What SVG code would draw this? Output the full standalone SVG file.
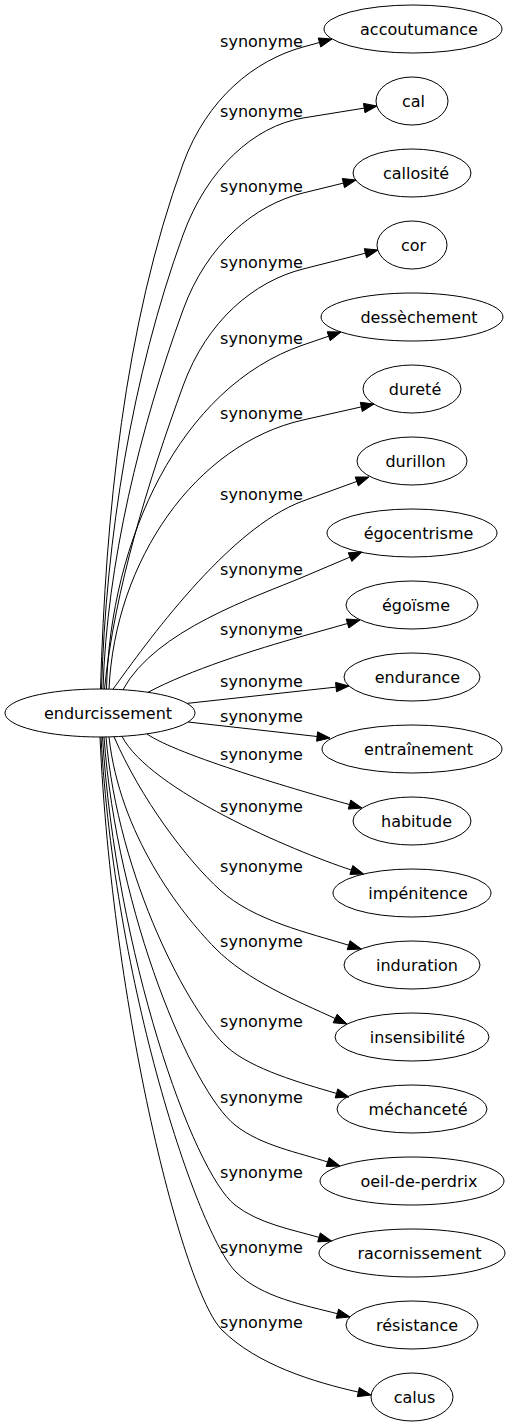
<svg xmlns="http://www.w3.org/2000/svg" width="510" height="1427" viewBox="0 0 510 1427">
<style>
text{font-family:"DejaVu Sans","Liberation Sans",sans-serif;font-size:16px;fill:#000;text-anchor:middle}
.n ellipse{fill:none;stroke:#000;stroke-width:1}
.e path{fill:none;stroke:#000;stroke-width:1}
.e polygon{fill:#000;stroke:#000;stroke-width:1}
</style>
<rect width="510" height="1427" fill="#fff"/>
<g id="edges" class="e">
<g id="e-accoutumance"><path d="M100.5,689 C105.7,516 123.8,326.6 183,164 C206.9,98.2 254.8,60.3 303,47 L319.5,42.5"/><polygon points="332,39 320.75,47.03 318.25,37.97"/><text x="261.5" y="47">synonyme</text></g>
<g id="e-cal"><path d="M101.5,689 C106,539 131.7,376 183,235 C206.9,169.2 253.65,126 303,118 L364.2,108.1"/><polygon points="377,106 364.95,112.7 363.45,103.4"/><text x="261.5" y="117">synonyme</text></g>
<g id="e-callosite"><path d="M103,689 C106.75,564 140.25,427.5 183,310 C206.9,244.2 254.45,204.9 303,193 L343.4,183.1"/><polygon points="356,180 344.5,187.7 342.3,178.5"/><text x="261.5" y="192">synonyme</text></g>
<g id="e-cor"><path d="M104.5,689 C114.5,589.5 148.8,480 183,386 C206.9,320.2 254.55,281.25 303,269 L365.4,253.2"/><polygon points="378,250 366.55,257.75 364.25,248.65"/><text x="261.5" y="268">synonyme</text></g>
<g id="e-dessechement"><path d="M106.5,689 C110,540 180,387.1 303,345 L328.7,336.2"/><polygon points="341,332 330.2,340.65 327.2,331.75"/><text x="261.5" y="344">synonyme</text></g>
<g id="e-durete"><path d="M109,689 C115,560 195.75,444.2 303,420 L361.3,406.9"/><polygon points="374,404 362.3,411.5 360.3,402.3"/><text x="261.5" y="419">synonyme</text></g>
<g id="e-durillon"><path d="M113,689.2 C145,645 227.8,528.4 303,501 L356.8,481.45"/><polygon points="369,477 358.4,485.9 355.2,477"/><text x="261.5" y="500">synonyme</text></g>
<g id="e-egocentrisme"><path d="M123,689.7 C155,630 257,596.5 303,577 L350,557.1"/><polygon points="362,552 351.8,561.4 348.2,552.8"/><text x="261.5" y="575">synonyme</text></g>
<g id="e-egoisme"><path d="M148,692.3 C189.4,670.3 254.85,649.5 303,636 L347.5,623.5"/><polygon points="360,620 348.8,628 346.2,619"/><text x="261.5" y="635">synonyme</text></g>
<g id="e-endurance"><path d="M187,703.4 L336.05,687.1"/><polygon points="349,686 336.5,691.8 335.6,682.4"/><text x="261.5" y="687">synonyme</text></g>
<g id="e-entrainement"><path d="M188,722 L317.1,736.5"/><polygon points="330,738 316.6,741.2 317.6,731.8"/><text x="261.5" y="722">synonyme</text></g>
<g id="e-habitude"><path d="M147,734 C177,755 301.3,791.35 349.5,804.55"/><polygon points="362,808 348.25,809.1 350.75,800.1"/><text x="261.5" y="760">synonyme</text></g>
<g id="e-impenitence"><path d="M122,736.4 C150,790 292.5,850.8 351.35,870"/><polygon points="363.7,874 349.9,874.4 352.8,865.5"/><text x="261.5" y="812">synonyme</text></g>
<g id="e-induration"><path d="M114,736.7 C140.5,798.2 186.7,859.85 220,890 C254,920.8 308.5,932.8 348.6,945.2"/><polygon points="361.3,949 347.2,949.7 350,940.7"/><text x="261.5" y="872">synonyme</text></g>
<g id="e-insensibilite"><path d="M109,736.9 C119.6,834 180,912.3 215,948 C247.2,980.8 297.2,1001 335.2,1018.5"/><polygon points="347,1024 333.2,1022.8 337.2,1014.2"/><text x="261.5" y="947">synonyme</text></g>
<g id="e-mechancete"><path d="M106,736.9 C118.1,879.6 190,1013.5 227,1047 C251.4,1069.1 302.1,1083.4 336.5,1093.4"/><polygon points="349,1097 335.2,1097.9 337.8,1088.9"/><text x="261.5" y="1027">synonyme</text></g>
<g id="e-oeil-de-perdrix"><path d="M104,737 C117.1,915.5 192.1,1090.6 235,1125 C260.7,1145.6 299.15,1152.7 327.65,1162"/><polygon points="340,1166 326.2,1166.5 329.1,1157.5"/><text x="261.5" y="1103">synonyme</text></g>
<g id="e-racornissement"><path d="M102.5,737 C115.75,952.3 192.1,1170.6 235,1205 C258.2,1223.6 293.1,1229.8 319,1237.4"/><polygon points="331.5,1241 317.7,1241.9 320.3,1232.9"/><text x="261.5" y="1178">synonyme</text></g>
<g id="e-resistance"><path d="M101,737 C114.5,983 197.1,1233.1 236,1272 C261.6,1297.6 305.6,1305.4 337.4,1313.7"/><polygon points="350,1317 336.2,1318.25 338.6,1309.15"/><text x="261.5" y="1253">synonyme</text></g>
<g id="e-calus"><path d="M100,737 C112.2,1009.8 183.1,1291.1 222,1330 C256.9,1364.9 314.5,1382.2 358.3,1392.1"/><polygon points="371,1395 357.3,1396.7 359.3,1387.5"/><text x="261.5" y="1328">synonyme</text></g>
</g>
<g id="node-endurcissement" class="n"><ellipse cx="100" cy="713" rx="95" ry="24"/><text x="108" y="719">endurcissement</text></g>
<g id="node-accoutumance" class="n"><ellipse cx="413" cy="29" rx="89" ry="24"/><text x="419" y="35">accoutumance</text></g>
<g id="node-cal" class="n"><ellipse cx="412" cy="101" rx="36" ry="24"/><text x="413.5" y="107">cal</text></g>
<g id="node-callosite" class="n"><ellipse cx="412" cy="173" rx="59" ry="24"/><text x="416" y="179">callosité</text></g>
<g id="node-cor" class="n"><ellipse cx="412" cy="245" rx="35" ry="24"/><text x="413.5" y="251">cor</text></g>
<g id="node-dessechement" class="n"><ellipse cx="412" cy="317" rx="91" ry="24"/><text x="419" y="323">dessèchement</text></g>
<g id="node-durete" class="n"><ellipse cx="412" cy="389" rx="49" ry="24"/><text x="415" y="395">dureté</text></g>
<g id="node-durillon" class="n"><ellipse cx="412" cy="461" rx="55" ry="24"/><text x="415.5" y="467">durillon</text></g>
<g id="node-egocentrisme" class="n"><ellipse cx="412" cy="533" rx="85" ry="24"/><text x="418.5" y="539">égocentrisme</text></g>
<g id="node-egoisme" class="n"><ellipse cx="412" cy="605" rx="66" ry="24"/><text x="416" y="611">égoïsme</text></g>
<g id="node-endurance" class="n"><ellipse cx="412" cy="677" rx="68" ry="24"/><text x="417.5" y="683">endurance</text></g>
<g id="node-entrainement" class="n"><ellipse cx="412" cy="749" rx="90" ry="24"/><text x="418.5" y="755">entraînement</text></g>
<g id="node-habitude" class="n"><ellipse cx="412" cy="821" rx="59" ry="24"/><text x="416.5" y="827">habitude</text></g>
<g id="node-impenitence" class="n"><ellipse cx="412" cy="893" rx="79" ry="24"/><text x="418" y="899">impénitence</text></g>
<g id="node-induration" class="n"><ellipse cx="412" cy="965" rx="68" ry="24"/><text x="417" y="971">induration</text></g>
<g id="node-insensibilite" class="n"><ellipse cx="412" cy="1037" rx="77" ry="24"/><text x="417.5" y="1043">insensibilité</text></g>
<g id="node-mechancete" class="n"><ellipse cx="412" cy="1109" rx="75" ry="24"/><text x="418" y="1115">méchanceté</text></g>
<g id="node-oeil-de-perdrix" class="n"><ellipse cx="412" cy="1181" rx="92" ry="24"/><text x="419" y="1187">oeil-de-perdrix</text></g>
<g id="node-racornissement" class="n"><ellipse cx="412" cy="1253" rx="93" ry="24"/><text x="419.5" y="1259">racornissement</text></g>
<g id="node-resistance" class="n"><ellipse cx="412" cy="1325" rx="66" ry="24"/><text x="417" y="1331">résistance</text></g>
<g id="node-calus" class="n"><ellipse cx="412" cy="1397" rx="41" ry="24"/><text x="414.5" y="1403">calus</text></g>
</svg>
